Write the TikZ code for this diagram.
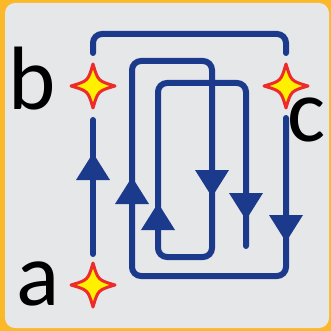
\documentclass[tikz,border=0pt]{standalone}
\usepackage{fontspec}
\setmainfont{Carlito}
\usepackage{tikz}
\usetikzlibrary{calc}
\definecolor{frame-orange}{HTML}{FBB829}
\definecolor{panel-gray}{HTML}{E6E7E9}
\definecolor{loop-blue}{HTML}{1C3A8C}
\definecolor{spark-red}{HTML}{EE2B2B}
\definecolor{spark-yellow}{HTML}{FFF000}
\tikzset{
    loopline/.style={loop-blue, line width=6pt, line cap=round, rounded corners=9pt},
    spark/.pic={
        \filldraw[spark-red, fill=spark-yellow, line width=3pt, line join=round]
            (22,0) .. controls (5,5) .. (0,22) .. controls (-5,5) .. (-22,0)
            .. controls (-5,-5) .. (0,-22) .. controls (5,-5) .. cycle;
    },
    letter/.style={inner sep=0pt, anchor=base west, font=\fontsize{90}{90}\selectfont}
}

\begin{document}
\begin{tikzpicture}[x=1pt, y=-1pt]
    \useasboundingbox (0,0) rectangle (331,331);
    \fill[frame-orange] (0,0) rectangle (331,331);
    \fill[panel-gray, rounded corners=10pt] (5,3) rectangle (329,328);

    \coordinate (a) at (93,285);
    \coordinate (b) at (93,86);
    \coordinate (c) at (286,86);

    % strands
    \draw[loopline, shorten <=31pt, shorten >=34pt] (a) -- (b);
    \draw[loopline] ($(b)+(0,-33)$) -- (93,34) -- (286,34) -- ($(c)+(0,-33)$);
    \draw[loopline] ($(c)+(0,32)$) -- (286,276) -- (132,276) -- (132,61)
        -- (212,61) -- (212,257) -- (158,257) -- (158,83) -- (246,83) -- (246,246);

    % arrows
    \foreach \x/\y in {93/153, 132/177, 158/203}
        \fill[loop-blue] (\x,\y) -- ++(-17,27) -- ++(34,0) -- cycle;
    \foreach \x/\y in {212/197, 246/220, 286/242}
        \fill[loop-blue] (\x,\y) -- ++(-17,-27) -- ++(34,0) -- cycle;

    \pic at (a) {spark};
    \pic at (b) {spark};
    \pic at (c) {spark};

    \node[letter] (la) at (16,305) {a};
    \node[letter] (lb) at (8,110) {b};
    \node[letter] (lc) at (287,142) {c};
\end{tikzpicture}
\end{document}
